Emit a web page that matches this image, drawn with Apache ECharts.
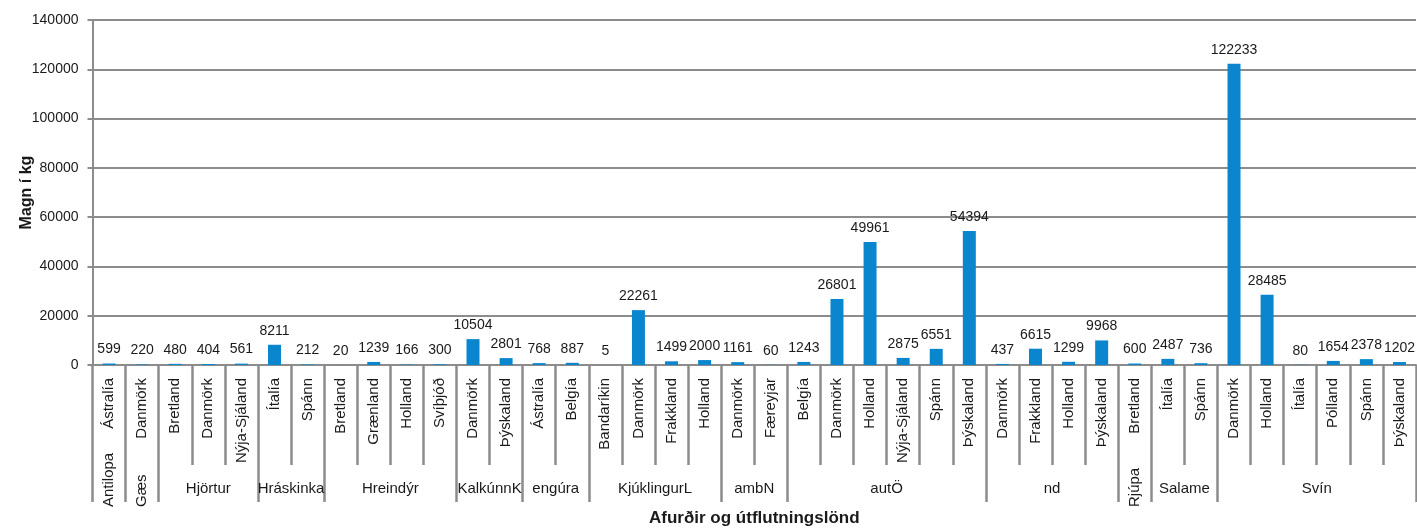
<!DOCTYPE html>
<html>
<head>
<meta charset="utf-8">
<script src="https://cdn.jsdelivr.net/npm/echarts@6/dist/echarts.min.js"></script>
<style>
html,body{margin:0;padding:0;background:#fff;}
#chart{width:1417px;height:531px;}
</style>
</head>
<body>
<div id="chart"></div>
<script>
const countries = ['Ástralía','Danmörk','Bretland','Danmörk','Nýja-Sjáland','Ítalía','Spánn','Bretland','Grænland','Holland','Svíþjóð','Danmörk','Þýskaland','Ástralía','Belgía','Bandaríkin','Danmörk','Frakkland','Holland','Danmörk','Færeyjar','Belgía','Danmörk','Holland','Nýja-Sjáland','Spánn','Þýskaland','Danmörk','Frakkland','Holland','Þýskaland','Bretland','Ítalía','Spánn','Danmörk','Holland','Ítalía','Pólland','Spánn','Þýskaland'];
const values = [599,220,480,404,561,8211,212,20,1239,166,300,10504,2801,768,887,5,22261,1499,2000,1161,60,1243,26801,49961,2875,6551,54394,437,6615,1299,9968,600,2487,736,122233,28485,80,1654,2378,1202];
const groupNames = ['Antilopa','Gæs','Hjörtur','Hráskinka','Hreindýr','KalkúnnK','engúra','KjúklingurL','ambN','autÖ','nd','Rjúpa','Salame','Svín'];
const groupSizes = [1,1,3,2,4,2,2,4,2,6,4,1,2,6];
const yTicks = {min:0, max:140000, interval:20000};

const N = countries.length;
const halfCount = 2*N + 1;
const flatLabels = new Array(halfCount).fill('');
const rotLabels = new Array(halfCount).fill('');
const boundary = new Set();
let s = 0;
groupNames.forEach((g,i)=>{
  const k = groupSizes[i];
  boundary.add(2*s);
  if (k === 1) rotLabels[2*s+k] = g; else flatLabels[2*s+k] = g;
  s += k;
});
boundary.add(2*s);
const halfIdx = Array.from({length:halfCount},(_,i)=>String(i));

const GRAY = '#8c8c8c';
const TXT = '#1a1a1a';
const FONT = 'Liberation Sans, Arial, sans-serif';

const chart = echarts.init(document.getElementById('chart'));
chart.setOption({
  animation:false,
  grid:{left:92.5, right:1, top:20, bottom:166, containLabel:false, outerBoundsMode:'none'},
  textStyle:{fontFamily:FONT},
  xAxis:[
    {
      type:'category', data:countries, position:'bottom',
      axisLine:{show:true, lineStyle:{color:GRAY, width:2}},
      axisTick:{show:true, interval:0, length:100, lineStyle:{color:GRAY, width:2.5}},
      axisLabel:{interval:0, rotate:90, margin:13, fontSize:15, color:TXT, fontFamily:FONT},
      name:'Afurðir og útflutningslönd', nameLocation:'middle', nameGap:145, nameMoveOverlap:false,
      nameTextStyle:{fontSize:17, fontWeight:'bold', color:TXT, fontFamily:FONT},
      splitLine:{show:false}
    },
    {
      type:'category', data:halfIdx, position:'bottom', boundaryGap:false, gridIndex:0,
      axisLine:{show:false},
      axisTick:{show:true, length:137, interval:(i)=>boundary.has(i), lineStyle:{color:GRAY, width:2.5}},
      axisLabel:{interval:0, margin:116, fontSize:15, color:TXT, fontFamily:FONT,
        formatter:(v,i)=>flatLabels[i]},
      splitLine:{show:false}
    },
    {
      type:'category', data:halfIdx, position:'bottom', boundaryGap:false, gridIndex:0,
      axisLine:{show:false},
      axisTick:{show:false},
      axisLabel:{interval:0, rotate:90, align:'left', verticalAlign:'middle', margin:142, fontSize:15, color:TXT, fontFamily:FONT,
        formatter:(v,i)=>rotLabels[i]},
      splitLine:{show:false}
    }
  ],
  yAxis:{
    type:'value', min:yTicks.min, max:yTicks.max, interval:yTicks.interval,
    axisLine:{show:true, lineStyle:{color:GRAY, width:2}},
    axisTick:{show:true, length:5, lineStyle:{color:GRAY, width:2}},
    axisLabel:{margin:14, fontSize:14, color:TXT, fontFamily:FONT, formatter:(v)=>String(v)},
    splitLine:{show:true, lineStyle:{color:GRAY, width:2}},
    name:'Magn í kg', nameLocation:'middle', nameRotate:90, nameGap:58, nameMoveOverlap:false,
    nameTextStyle:{fontSize:16, fontWeight:'bold', color:TXT, fontFamily:FONT}
  },
  series:[{
    type:'bar', xAxisIndex:0, data:values, barWidth:13,
    itemStyle:{color:'#0A86CF'},
    label:{show:true, position:'top', distance:7, fontSize:14, color:TXT, fontFamily:FONT}
  }]
});
</script>
</body>
</html>
